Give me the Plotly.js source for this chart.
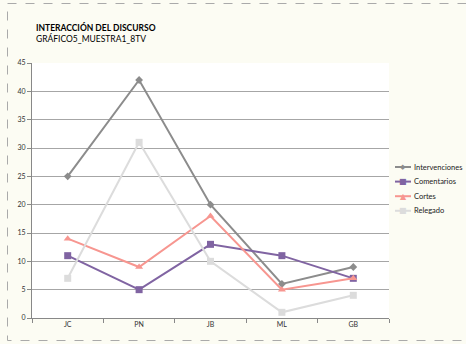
<!DOCTYPE html>
<html><head><meta charset="utf-8">
<script src="https://cdn.plot.ly/plotly-3.0.1.min.js"></script>
<style>html,body{margin:0;padding:0;background:#FCFCF3;}#c{width:466px;height:344px;}</style>
</head><body><div id="c"></div>
<script>
const categories = ["JC","PN","JB","ML","GB"];
const intervenciones = [25,42,20,6,9];
const comentarios = [11,5,13,11,7];
const cortes = [14,9,18,5,7];
const relegado = [7,31,10,1,4];
const seriesNames = ["Intervenciones","Comentarios","Cortes","Relegado"];
const colors = ["#8C8C8C","#8064A2","#F79690","#DCDCDC"];
const symbols = ["diamond","square","triangle-up","square"];
const legendGlyphs = ["◆","■","▲","■"];
const sizes = [6,7,7,7];
const data = [intervenciones,comentarios,cortes,relegado].map((v,i)=>({
  x: categories, y: v, name: seriesNames[i], type:'scatter', mode:'lines+markers',
  line:{color:colors[i], width:2}, marker:{color:colors[i], symbol:symbols[i], size:sizes[i]}
}));
const W=466,H=344,l=32,r=77,t=63,b=26;
const pw=W-l-r, ph=H-t-b;
const px = x => (x-l)/pw, py = y => 1-(y-t)/ph;
const annotations = [
  {xref:'paper', yref:'paper', x:px(34), y:py(27), xanchor:'left', yanchor:'middle', text:'<b>INTERACCIÓN DEL DISCURSO</b>', showarrow:false, font:{size:8.5, color:'#000'}},
  {xref:'paper', yref:'paper', x:px(34), y:py(39), xanchor:'left', yanchor:'middle', text:'GRÁFICO5_MUESTRA1_8TV', showarrow:false, font:{size:8.5, color:'#000'}}
];
const shapes = [
  {type:'rect', xref:'paper', yref:'paper', x0:px(7.5), x1:px(480), y0:py(3.5), y1:py(340.5), line:{color:'#AAAAAA', width:1, dash:'dash'}, fillcolor:'rgba(0,0,0,0)', layer:'below'}
];
// custom legend (compact, like the original)
const legY0 = 167, legStep = 14.6;
seriesNames.forEach((nm,i)=>{
  const yy = legY0 + i*legStep;
  shapes.push({type:'line', xref:'paper', yref:'paper', x0:px(395), x1:px(411), y0:py(yy), y1:py(yy), line:{color:colors[i], width:2}});
  annotations.push({xref:'paper', yref:'paper', x:px(403), y:py(yy), xanchor:'center', yanchor:'middle', text:legendGlyphs[i], showarrow:false, font:{size: i===0?7:8, color:colors[i], family:'DejaVu Sans'}});
  annotations.push({xref:'paper', yref:'paper', x:px(412), y:py(yy), xanchor:'left', yanchor:'middle', text:nm, showarrow:false, font:{size:7.5, color:'#222'}});
});
const layout = {
  width:W, height:H, margin:{l:l,r:r,t:t,b:b,autoexpand:false},
  paper_bgcolor:'#FCFCF3', plot_bgcolor:'#FFFFFF',
  font:{family:'Lato, "Open Sans", sans-serif', size:7, color:'#333'},
  showlegend:false,
  xaxis:{type:'category', tickson:'boundaries', ticks:'outside', ticklen:4, tickcolor:'#888', showline:true, linecolor:'#888', linewidth:1, showgrid:false, tickfont:{size:7,color:'#333'}, range:[-0.5,4.5], fixedrange:true},
  yaxis:{range:[0,45], dtick:5, ticks:'outside', ticklen:4, tickcolor:'#888', showline:true, linecolor:'#888', linewidth:1, gridcolor:'#A6A6A6', gridwidth:1, zeroline:false, tickfont:{size:7,color:'#333'}},
  annotations: annotations,
  shapes: shapes
};
Plotly.newPlot('c', data, layout, {displayModeBar:false, staticPlot:true});
</script></body></html>
